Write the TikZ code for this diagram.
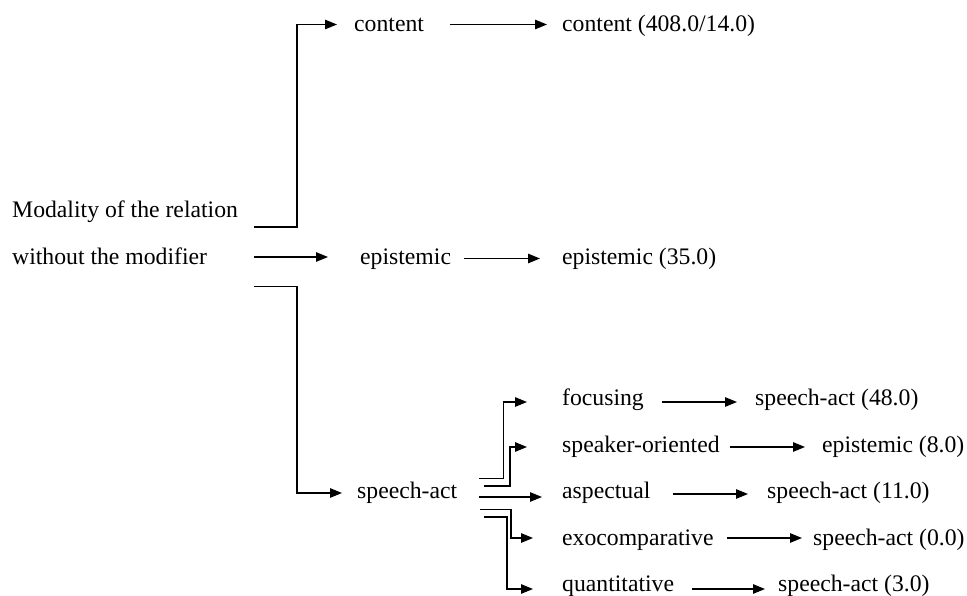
\documentclass[tikz,border=0pt]{standalone}
\usepackage{fontspec}
\setmainfont{Liberation Serif}
\usetikzlibrary{arrows.meta}
\begin{document}
\begin{tikzpicture}[x=1pt,y=-1pt,
  lbl/.style={inner sep=0pt, anchor=base west, font=\fontsize{23.7}{28}\selectfont},
  conn/.style={line width=1.2pt, -{Triangle[length=12pt,width=9.5pt]}}]
\useasboundingbox (0,0) rectangle (967,596);
% left labels
\node[lbl] (mod1) at (12,218) {Modality of the relation};
\node[lbl] (mod2) at (12,264.5) {without the modifier};
% first level
\node[lbl] (content) at (354,32) {content};
\node[lbl] (epi) at (360,264.5) {epistemic};
\node[lbl] (sa) at (357,498) {speech-act};
% results of first level
\node[lbl] (contentR) at (562,32) {content (408.0/14.0)};
\node[lbl] (epiR) at (562,264.5) {epistemic (35.0)};
% second level
\node[lbl] (foc) at (562,405) {focusing};
\node[lbl] (spk) at (562,452) {speaker-oriented};
\node[lbl] (asp) at (562,498) {aspectual};
\node[lbl] (exo) at (562,545) {exocomparative};
\node[lbl] (qua) at (562,591) {quantitative};
% results of second level
\node[lbl] (focR) at (755,405) {speech-act (48.0)};
\node[lbl] (spkR) at (822,452) {epistemic (8.0)};
\node[lbl] (aspR) at (767,498) {speech-act (11.0)};
\node[lbl] (exoR) at (813,545) {speech-act (0.0)};
\node[lbl] (quaR) at (778,591) {speech-act (3.0)};
% connectors from the root
\draw[conn] ([xshift=242pt,yshift=-9pt]mod1.base west) -- ++(43pt,0) |- ([xshift=-17pt,yshift=7.5pt]content.base west);
\draw[conn] ([xshift=242pt,yshift=7.5pt]mod2.base west) -- ([xshift=-32pt,yshift=7.5pt]epi.base west);
\draw[conn] ([xshift=242pt,yshift=-22pt]mod2.base west) -- ++(43pt,0) |- ([xshift=-15pt,yshift=5pt]sa.base west);
% first level to results
\draw[conn] ([xshift=96pt,yshift=7.5pt]content.base west) -- ([xshift=-15pt,yshift=7.5pt]contentR.base west);
\draw[conn] ([xshift=104pt,yshift=6pt]epi.base west) -- ([xshift=-22pt,yshift=6pt]epiR.base west);
% speech-act branches
\draw[conn] ([xshift=122pt,yshift=19.5pt]sa.base west) -- ++(24.5pt,0) |- ([xshift=-35pt,yshift=3pt]foc.base west);
\draw[conn] ([xshift=127pt,yshift=12pt]sa.base west) -- ++(26pt,0) |- ([xshift=-35pt,yshift=5pt]spk.base west);
\draw[conn] ([xshift=122pt,yshift=1pt]sa.base west) -- ([xshift=-20pt,yshift=1pt]asp.base west);
\draw[conn] ([xshift=123pt,yshift=-11.5pt]sa.base west) -- ++(31pt,0) |- ([xshift=-29pt,yshift=7pt]exo.base west);
\draw[conn] ([xshift=127pt,yshift=-19pt]sa.base west) -- ++(23pt,0) |- ([xshift=-29pt,yshift=2pt]qua.base west);
% second level to results
\draw[conn] ([xshift=100pt,yshift=3pt]foc.base west) -- ([xshift=-18pt,yshift=3pt]focR.base west);
\draw[conn] ([xshift=168pt,yshift=5pt]spk.base west) -- ([xshift=-17pt,yshift=5pt]spkR.base west);
\draw[conn] ([xshift=111pt,yshift=4pt]asp.base west) -- ([xshift=-19pt,yshift=4pt]aspR.base west);
\draw[conn] ([xshift=165pt,yshift=7pt]exo.base west) -- ([xshift=-11pt,yshift=7pt]exoR.base west);
\draw[conn] ([xshift=130pt,yshift=2pt]qua.base west) -- ([xshift=-13pt,yshift=2pt]quaR.base west);
\end{tikzpicture}
\end{document}
